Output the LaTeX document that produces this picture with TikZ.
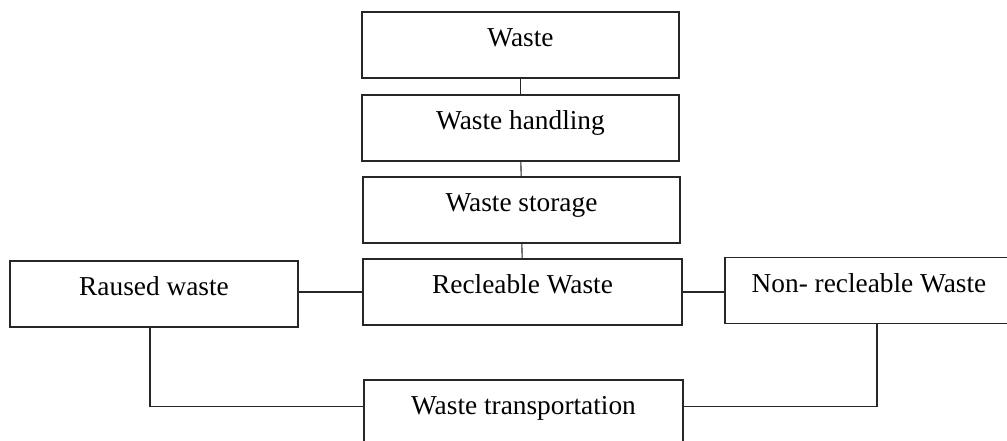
\documentclass[tikz,border=0pt]{standalone}
\usepackage{fontspec}
\setmainfont{Liberation Serif}
\usepackage{tikz}
\usetikzlibrary{positioning}
\tikzset{stage/.style = {shape = rectangle, draw = black!85, line width = 0.8pt, inner sep = 0pt,
    minimum height = 49.5pt, text height = 10pt, text depth = 7pt,
    font = \fontsize{20.5}{24}\selectfont}}
\tikzset{link/.style = {-, draw = black!85, line width = 0.8pt}}

\begin{document}
\begin{tikzpicture}[x = 0.75pt, y = 0.75pt]
			\useasboundingbox (0, 0) rectangle (1007, 441);
			\clip (0, 0) rectangle (1007, 441);

			\node[stage, minimum width = 237.75pt] (waste) at (520.5, 396) {Waste};
			\node[stage, minimum width = 237.75pt] (handling) at (520.5, 313) {Waste handling};
			\node[stage, minimum width = 237.75pt] (storage) at (521.5, 231) {Waste storage};
			\node[stage, minimum width = 239.25pt] (recleable) at (522.5, 149) {Recleable Waste};
			\node[stage, minimum width = 216pt] (raused) at (154, 147) {Raused waste};
			\node[stage, minimum width = 216pt] (nonrec) at (869, 150.5) {Non- recleable Waste};
			\node[stage, minimum width = 239.25pt] (transport) at (523.5, 28) {Waste transportation};

			\draw[link] (waste) to (handling);
			\draw[link] (handling) to (storage);
			\draw[link] (storage) to (recleable);
			\draw[link] (raused.east |- recleable.west) to (recleable.west);
			\draw[link] (recleable.east) to (recleable.east -| nonrec.west);
			\draw[link] ([xshift = -3pt]raused.south) |- ([yshift = 5pt]transport.west);
			\draw[link] ([xshift = 6pt]nonrec.south) |- ([yshift = 5pt]transport.east);
		\end{tikzpicture}
\end{document}
